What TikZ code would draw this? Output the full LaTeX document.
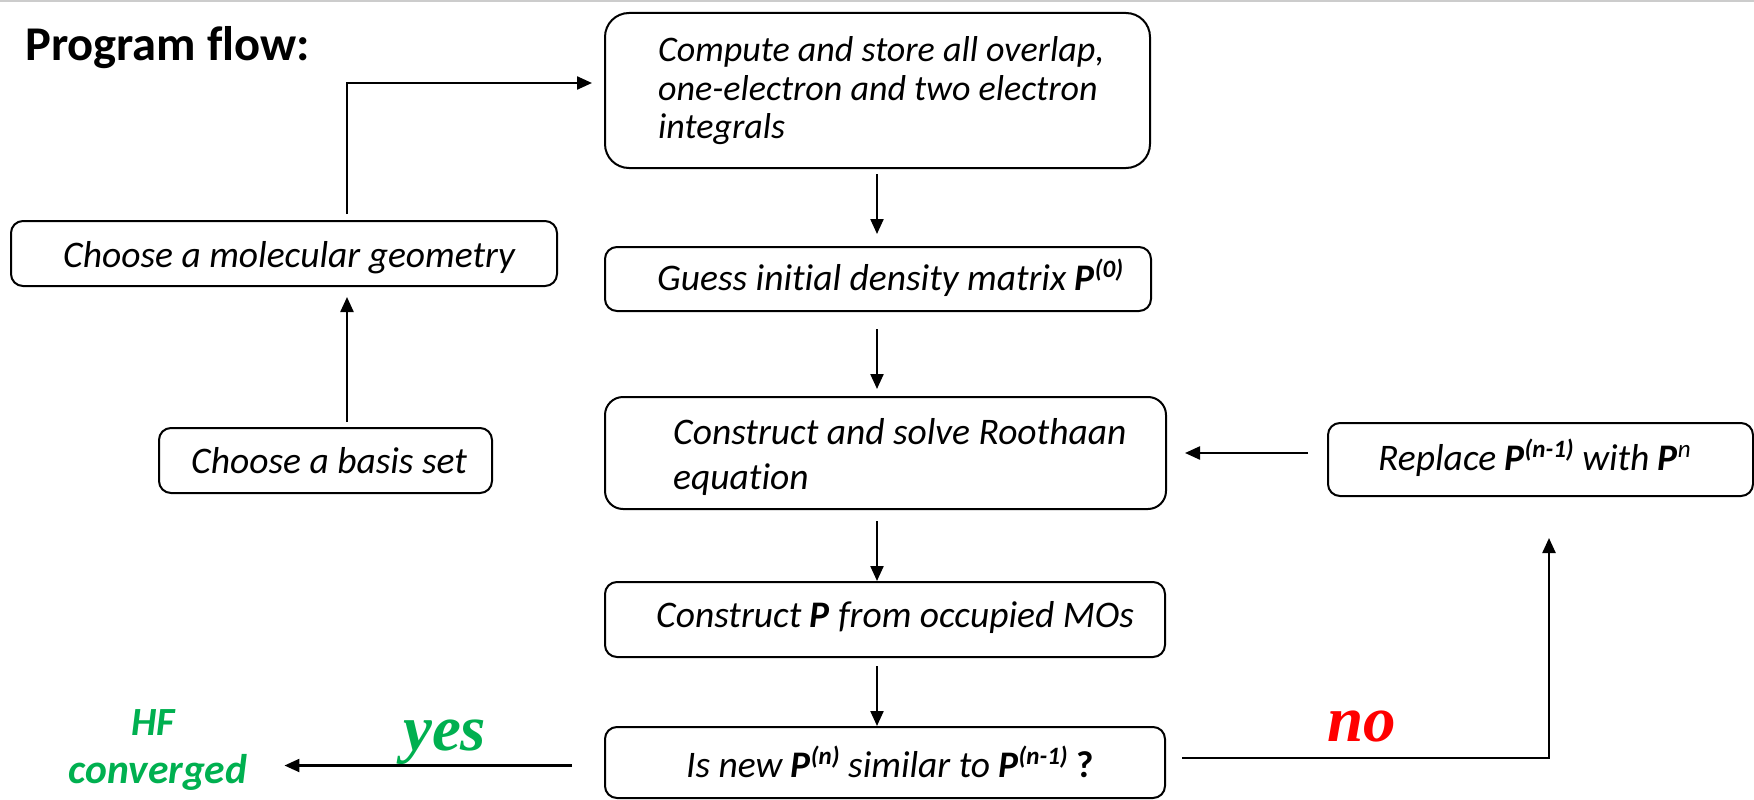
\documentclass[tikz,border=0pt]{standalone}
\usepackage{fontspec}
\setmainfont{Carlito}[Ligatures={NoCommon}]
\newfontfamily\timesf{Liberation Serif}
\usetikzlibrary{arrows.meta}
\definecolor{pgreen}{RGB}{0,176,80}
\definecolor{pred}{RGB}{255,0,0}
\newcommand\bxfont{\fontsize{37.5}{40}\selectfont\itshape}
\newcommand\cpfont{\fontsize{36}{38}\selectfont\itshape}
\newcommand\PP[1]{\textbf{P}\raisebox{13pt}{\fontsize{25}{25}\selectfont\bfseries\itshape #1}}
\newcommand\PL[1]{\textbf{P}\raisebox{13pt}{\fontsize{25}{25}\selectfont\itshape #1}}
\begin{document}
\begin{tikzpicture}[x=1pt,y=-1pt,
  box/.style={draw, line width=2pt, rounded corners=12pt, inner sep=0pt},
  txt/.style={anchor=base west, inner sep=0pt, font=\bxfont},
  ctxt/.style={anchor=base west, inner sep=0pt, font=\cpfont},
  arr/.style={line width=2.3pt, -{Triangle[length=15pt,width=13pt]}},
  lbl/.style={inner sep=0pt}]
\useasboundingbox (0,0) rectangle (1754,800);
\draw[black!20, line width=2pt] (0,1) -- (1754,1);

% title
\node[lbl, anchor=base west, font=\fontsize{48.5}{48.5}\selectfont\bfseries] (title) at (25,60) {Program flow:};

% boxes
\node[box, minimum width=546pt, minimum height=65pt] (geom) at (284,253.5) {};
\node[box, minimum width=333pt, minimum height=65pt] (basis) at (325.5,460.5) {};
\node[box, rounded corners=24pt, minimum width=545pt, minimum height=155pt] (compute) at (877.5,90.5) {};
\node[box, minimum width=546pt, minimum height=64pt] (guess) at (878,279) {};
\node[box, rounded corners=18pt, minimum width=561pt, minimum height=112pt] (rooth) at (885.5,453) {};
\node[box, minimum width=560pt, minimum height=75pt] (constP) at (885,619.5) {};
\node[box, minimum width=560pt, minimum height=71pt] (isnew) at (885,762.5) {};
\node[box, minimum width=425pt, minimum height=73pt] (replace) at (1540.5,459.5) {};

% texts
\node[txt] (geomT) at (63,267) {Choose a molecular geometry};
\node[txt] (basisT) at (191,473) {Choose a basis set};
\node[ctxt] (compT1) at (658,62) {Compute and store all overlap,};
\node[ctxt] (compT2) at (658,100) {one-electron and two electron};
\node[ctxt] (compT3) at (658,138) {integrals};
\node[txt] (guessT) at (657,290) {Guess initial density matrix \PP{(0)}};
\node[txt] (roothT1) at (673,444) {Construct and solve Roothaan};
\node[txt] (roothT2) at (673,489) {equation};
\node[txt] (constPT) at (656,627) {Construct \textbf{P} from occupied MOs};
\node[txt] (isnewT) at (686,777) {Is new \PP{(n)} similar to \PP{(n-1)} {\bfseries\upshape ?}};
\node[txt] (replaceT) at (1378,470) {Replace \PP{(n-1)} with \PL{n}};

\node[lbl, anchor=base, text=pgreen, font=\fontsize{40}{40}\selectfont\bfseries\itshape] (hf1) at (153,735) {HF};
\node[lbl, anchor=base, text=pgreen, font=\fontsize{41.5}{41.5}\selectfont\bfseries\itshape] (hf2) at (158,783) {converged};
\node[lbl, anchor=base west, text=pgreen] (yes) at (403,750) {\timesf\fontsize{65}{65}\selectfont\bfseries\itshape yes};
\node[lbl, anchor=base west, text=pred] (no) at (1327,741) {\timesf\fontsize{65}{65}\selectfont\bfseries\itshape no};

% helper coordinates
\coordinate (ax) at (877,0);
\coordinate (axl) at (347,0);
\coordinate (axr) at (1549,0);

% connectors
\draw[arr, shorten <=5pt, shorten >=12pt] (compute.south -| ax) -- (guess.north -| ax);
\draw[arr, shorten <=17pt, shorten >=7pt] (guess.south -| ax) -- (rooth.north -| ax);
\draw[arr, shorten <=11pt] (rooth.south -| ax) -- (constP.north -| ax);
\draw[arr, shorten <=8pt] (constP.south -| ax) -- (isnew.north -| ax);
\draw[arr, shorten <=5pt, shorten >=10pt] (basis.north -| axl) -- (geom.south -| axl);
\draw[arr, shorten <=6pt, shorten >=12pt] (geom.north -| axl) |- ([yshift=7.5pt]compute.west);
\draw[arr, shorten <=19pt, shorten >=18pt] (replace.west |- rooth.east) -- (rooth.east);
\draw[arr, shorten <=32pt, shorten >=37pt] ([yshift=-3pt]isnew.west) -- ([yshift=-3pt]hf2.east |- isnew.west);
\draw[arr, shorten >=41pt] ([xshift=16pt,yshift=4.5pt]isnew.east) -| (replace.south -| axr);
\end{tikzpicture}
\end{document}
